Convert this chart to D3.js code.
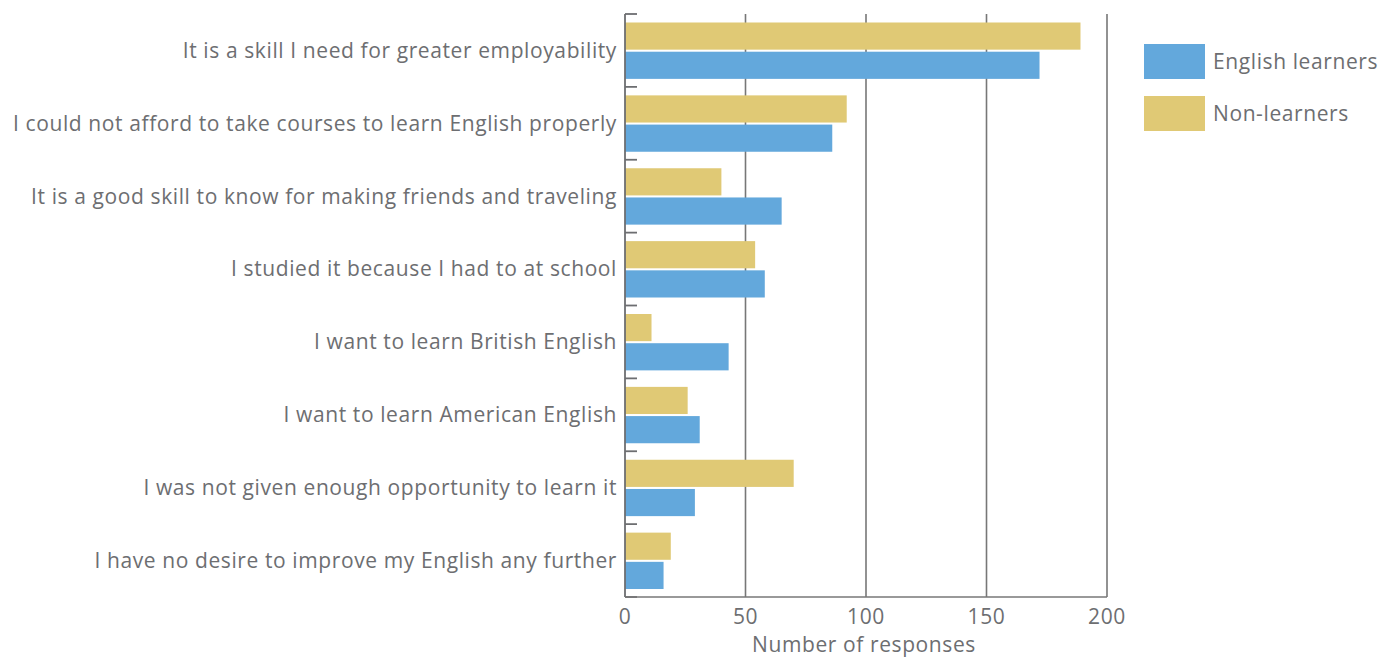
<!DOCTYPE html>
<html>
<head>
<meta charset="utf-8">
<script src="https://cdn.jsdelivr.net/npm/d3@7"></script>
<style>
  html, body { margin: 0; padding: 0; background: #fff; }
  svg text { font-family: "Open Sans", "Noto Sans", sans-serif; fill: #6d6e71; letter-spacing: 0.6px; }
</style>
</head>
<body>
<svg id="chart" width="1381" height="659"></svg>
<script>
const categories = [
  "It is a skill I need for greater employability",
  "I could not afford to take courses to learn English properly",
  "It is a good skill to know for making friends and traveling",
  "I studied it because I had to at school",
  "I want to learn British English",
  "I want to learn American English",
  "I was not given enough opportunity to learn it",
  "I have no desire to improve my English any further"
];
const seriesNames = ["Non-learners", "English learners"];
const nonLearners = [189, 92, 40, 54, 11, 26, 70, 19];
const englishLearners = [172, 86, 65, 58, 43, 31, 29, 16];
const xTicks = [0, 50, 100, 150, 200];
const legendOrder = ["English learners", "Non-learners"];

const colors = { "English learners": "#63a8dc", "Non-learners": "#e0c975" };
const seriesData = { "Non-learners": nonLearners, "English learners": englishLearners };

const svg = d3.select("#chart");
const pLeft = 625, pRight = 1107, pTop = 14, pBottom = 597;

const x = d3.scaleLinear().domain([0, 200]).range([pLeft, pRight]);
const y0 = d3.scaleBand().domain(categories).range([pTop, pBottom]).padding(0);
const y1 = d3.scaleBand().domain(seriesNames)
  .range([8.5, y0.bandwidth() - 8]).paddingInner(0.07);

// gridlines
svg.append("g").selectAll("line").data(xTicks.slice(1)).join("line")
  .attr("x1", d => x(d)).attr("x2", d => x(d))
  .attr("y1", pTop).attr("y2", pBottom)
  .attr("stroke", "#777").attr("stroke-width", 1.6);

// bars
const g = svg.append("g");
categories.forEach((c, i) => {
  seriesNames.forEach(s => {
    g.append("rect")
      .attr("x", x(0))
      .attr("y", y0(c) + y1(s))
      .attr("width", x(seriesData[s][i]) - x(0))
      .attr("height", y1.bandwidth())
      .attr("fill", colors[s]);
  });
});

// left axis line + ticks
const boundaries = categories.map(c => y0(c)).concat([pBottom]);
svg.append("line").attr("x1", pLeft).attr("x2", pLeft).attr("y1", pTop).attr("y2", pBottom)
  .attr("stroke", "#6d6e71").attr("stroke-width", 1.8);
svg.append("g").selectAll("line").data(boundaries).join("line")
  .attr("x1", pLeft).attr("x2", pLeft + 12)
  .attr("y1", d => d).attr("y2", d => d)
  .attr("stroke", "#6d6e71").attr("stroke-width", 1.8);

// bottom axis line
svg.append("line").attr("x1", pLeft).attr("x2", pRight).attr("y1", pBottom).attr("y2", pBottom)
  .attr("stroke", "#777").attr("stroke-width", 1.6);

// category labels
svg.append("g").selectAll("text").data(categories).join("text")
  .attr("x", pLeft - 8)
  .attr("y", d => y0(d) + y0.bandwidth() / 2)
  .attr("dy", "0.35em")
  .attr("text-anchor", "end")
  .attr("font-size", 21)
  .text(d => d);

// x tick labels
svg.append("g").selectAll("text").data(xTicks).join("text")
  .attr("x", d => x(d))
  .attr("y", 617)
  .attr("dy", "0.35em")
  .attr("text-anchor", "middle")
  .attr("font-size", 21)
  .text(d => d);

svg.append("text")
  .attr("x", (pLeft + pRight) / 2 - 2)
  .attr("y", 645)
  .attr("dy", "0.35em")
  .attr("text-anchor", "middle")
  .attr("font-size", 21)
  .text("Number of responses");

// legend
const lg = svg.append("g");
legendOrder.forEach((s, i) => {
  lg.append("rect").attr("x", 1144).attr("y", 44 + i * 52)
    .attr("width", 61).attr("height", 35).attr("fill", colors[s]);
  lg.append("text").attr("x", 1213).attr("y", 44 + i * 52 + 17.5)
    .attr("dy", "0.35em").attr("font-size", 21).text(s);
});
</script>
</body>
</html>
